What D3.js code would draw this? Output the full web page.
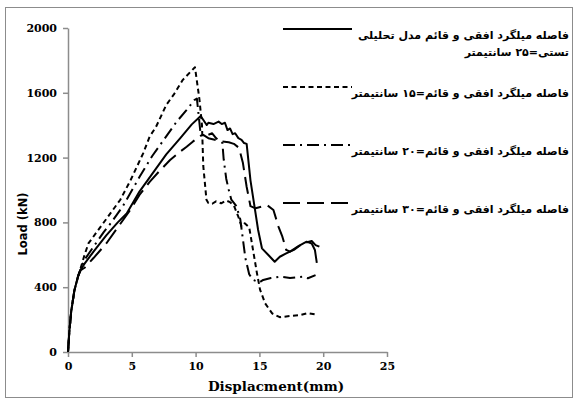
<!DOCTYPE html>
<html>
<head>
<meta charset="utf-8">
<script src="https://cdn.jsdelivr.net/npm/d3@7"></script>
<style>
  body { margin: 0; background: #fff; }
  .legend { font-family: "DejaVu Sans", sans-serif; font-weight: bold; font-size: 11px; fill: #000; }
</style>
</head>
<body>
<svg width="578" height="403"></svg>
<script>
var xTicks = [0, 5, 10, 15, 20, 25];
var yTicks = [0, 400, 800, 1200, 1600, 2000];

var legendNames = [
  ["فاصله میلگرد افقی و قائم مدل تحلیلی", "تستی=۲۵ سانتیمتر"],
  ["فاصله میلگرد افقی و قائم=۱۵ سانتیمتر"],
  ["فاصله میلگرد افقی و قائم=۲۰ سانتیمتر"],
  ["فاصله میلگرد افقی و قائم=۳۰ سانتیمتر"]
];

// 25 cm (analytical / test)
var disp25 = [0,0.1,0.25,0.5,0.8,1.0,1.3,2.0,3.0,3.9,4.6,5.6,6.7,7.7,8.8,9.7,10.4,10.87,11.0,11.4,11.8,12.05,12.3,12.5,12.7,12.9,13.1,13.35,13.6,13.8,14.0,14.3,14.9,15.2,15.7,16.2,16.6,17.1,17.7,18.2,18.7,19.1,19.35,19.5];
var load25 = [0,120,250,380,470,510,545,620,720,800,855,990,1110,1220,1320,1405,1457,1401,1415,1407,1422,1407,1415,1370,1380,1345,1350,1320,1310,1290,1285,1060,753,640,599,557,588,609,630,660,681,670,630,550];

// 15 cm
var disp15 = [0,0.1,0.25,0.5,0.8,1.0,1.3,1.6,2.2,2.9,3.5,4.1,4.9,5.9,6.4,6.9,7.7,8.3,9.0,9.95,10.3,10.5,10.6,10.85,11.0,11.3,11.6,12.0,12.4,12.7,13.0,13.35,13.6,13.85,14.2,14.5,14.8,15.05,15.45,16.0,16.6,17.4,18.2,18.8,19.4];
var load15 = [0,120,250,380,470,520,600,670,735,810,875,940,1060,1228,1330,1390,1525,1590,1680,1758,1560,1400,1150,940,920,915,930,918,935,925,905,835,775,795,770,630,490,385,300,238,215,222,228,240,232];

// 20 cm
var disp20 = [0,0.1,0.25,0.5,0.8,1.0,1.3,2.0,2.8,3.4,4.3,5.6,6.6,7.6,8.5,9.3,9.9,10.1,10.4,10.8,11.3,11.6,12.1,12.2,12.4,12.6,12.8,13.2,13.5,13.7,13.9,14.2,14.5,15.0,15.3,15.9,16.6,17.4,18.4,18.8,19.4];
var load20 = [0,120,250,380,470,515,570,650,740,800,900,1080,1210,1320,1420,1494,1555,1565,1340,1335,1350,1320,1290,1190,1070,1000,940,900,820,700,580,480,445,430,445,457,465,457,465,455,475];

// 30 cm
var disp30 = [0,0.1,0.25,0.5,0.8,1.0,1.3,2.0,3.0,4.0,4.9,5.6,6.4,7.2,8.0,8.8,9.3,9.8,10.4,10.6,11.0,11.5,12.0,12.6,13.0,13.4,13.7,14.0,14.3,14.7,15.6,16.1,16.5,16.8,17.1,17.4,18.0,18.4,19.1,19.4,19.7];
var load30 = [0,120,250,380,470,505,520,580,670,780,880,970,1050,1120,1185,1237,1267,1300,1335,1340,1320,1310,1300,1295,1285,1260,1170,1020,900,887,907,877,773,712,630,620,650,670,685,660,650];

var svg = d3.select("svg");
var serifFont = "DejaVu Serif";

svg.append("rect")
  .attr("x", 5.5).attr("y", 7.5)
  .attr("width", 567).attr("height", 390)
  .attr("fill", "#fff")
  .attr("stroke", "#8c8c8c")
  .attr("stroke-width", 1);

var xScale = d3.scaleLinear().domain([0, 25]).range([68, 387]);
var yScale = d3.scaleLinear().domain([0, 2000]).range([352, 28]);

var xAxis = svg.append("g")
  .attr("transform", "translate(0,352)")
  .call(d3.axisBottom(xScale).tickValues(xTicks).tickFormat(d3.format("d"))
    .tickSize(5).tickSizeOuter(0).tickPadding(5));
var yAxis = svg.append("g")
  .attr("transform", "translate(68,0)")
  .call(d3.axisLeft(yScale).tickValues(yTicks).tickFormat(d3.format("d"))
    .tickSize(5).tickSizeOuter(0).tickPadding(6));

[xAxis, yAxis].forEach(function(a) {
  a.attr("font-family", serifFont).attr("font-size", 11).attr("font-weight", "bold");
  a.select(".domain").attr("stroke", "#8c8c8c").attr("stroke-width", 1.5);
  a.selectAll(".tick line").attr("stroke", "#8c8c8c").attr("stroke-width", 1.5);
  a.selectAll(".tick text").attr("fill", "#000");
});

svg.append("text")
  .attr("x", 276)
  .attr("y", 391)
  .attr("text-anchor", "middle")
  .attr("font-family", serifFont)
  .attr("font-weight", "bold")
  .attr("font-size", 13.5)
  .text("Displacment(mm)");

svg.append("text")
  .attr("transform", "translate(27,224) rotate(-90)")
  .attr("text-anchor", "middle")
  .attr("font-family", "DejaVu Sans")
  .attr("font-weight", "bold")
  .attr("font-size", 11.5)
  .text("Load (kN)");

var series = [
  {x: disp25, y: load25, dash: null},
  {x: disp15, y: load15, dash: "5,3.5"},
  {x: disp20, y: load20, dash: "12,5,2,5"},
  {x: disp30, y: load30, dash: "17,7"}
];

var line = d3.line()
  .x(function(d) { return xScale(d[0]); })
  .y(function(d) { return yScale(d[1]); });

series.forEach(function(s) {
  var pts = s.x.map(function(v, i) { return [v, s.y[i]]; });
  svg.append("path")
    .attr("d", line(pts))
    .attr("fill", "none")
    .attr("stroke", "#000")
    .attr("stroke-width", 2)
    .attr("stroke-linejoin", "round")
    .attr("stroke-dasharray", s.dash);
});

// legend
var legendY = [29, 87, 145, 203];
series.forEach(function(s, i) {
  svg.append("line")
    .attr("x1", 283).attr("x2", 352)
    .attr("y1", legendY[i]).attr("y2", legendY[i])
    .attr("stroke", "#000")
    .attr("stroke-width", 2)
    .attr("stroke-dasharray", s.dash);
  legendNames[i].forEach(function(t, j) {
    svg.append("text")
      .attr("class", "legend")
      .attr("x", 569)
      .attr("y", legendY[i] + 10 + j * 17)
      .attr("text-anchor", "end")
      .text(t);
  });
});
</script>
</body>
</html>
